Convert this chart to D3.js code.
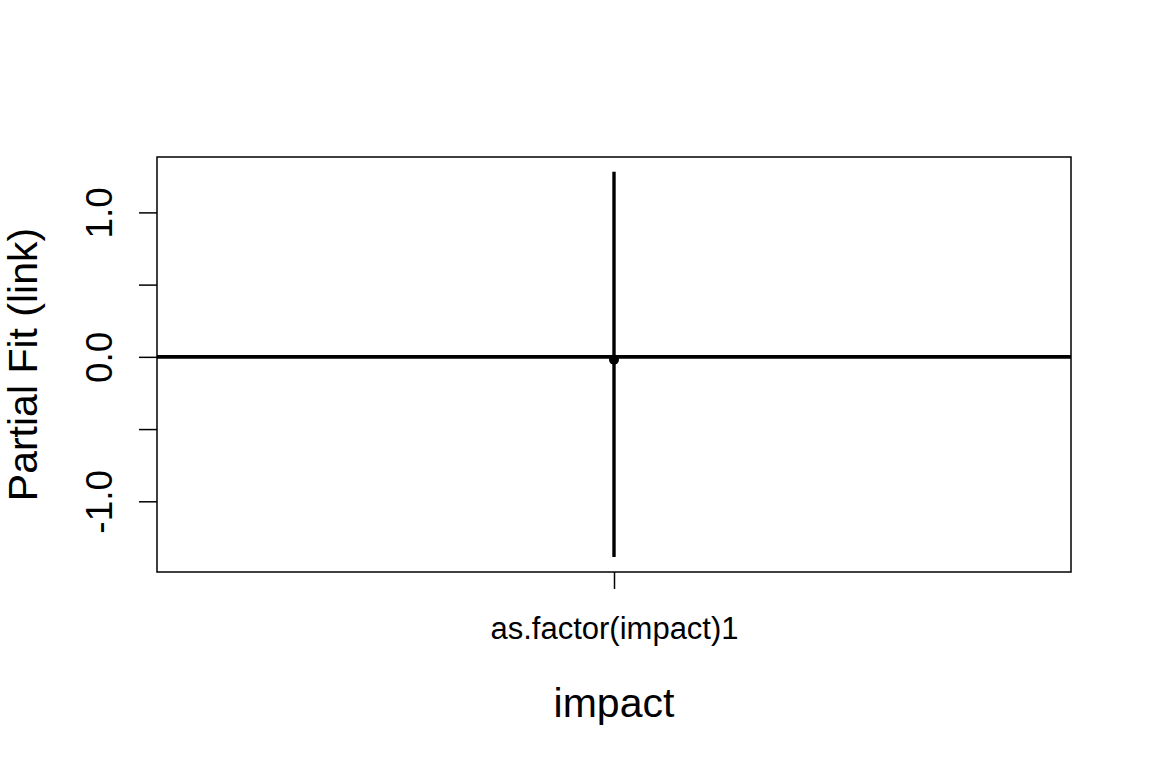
<!DOCTYPE html>
<html><head><meta charset="utf-8">
<script src="https://cdn.jsdelivr.net/npm/d3@7"></script>
<style>body{margin:0;background:#fff}svg{display:block}text{font-family:"Liberation Sans",Arial,sans-serif;fill:#000}</style>
</head><body><svg id="c" width="1152" height="768"></svg>
<script>
const categories = ["as.factor(impact)1"];
const fitValues = [-0.02];
const upperValues = [1.281];
const lowerValues = [-1.385];
const yTicks = [-1.0, -0.5, 0.0, 0.5, 1.0];
const yTickLabels = ["-1.0", "", "0.0", "", "1.0"];
const refLine = [0];

const svg = d3.select("#c");
const L = 157, R = 1071, T = 157, B = 572;
const x = d3.scalePoint().domain(categories).range([L, R]).padding(0.5);
const y = d3.scaleLinear().domain([-1.4894, 1.3834]).range([B, T]);

// reference line at 0
svg.selectAll(".ref").data(refLine).enter().append("line")
  .attr("x1", L).attr("x2", R).attr("y1", d => y(d)).attr("y2", d => y(d))
  .attr("stroke", "#000").attr("stroke-width", 3.6);

// CI segments
svg.selectAll(".ci").data(categories).enter().append("line")
  .attr("x1", d => x(d)).attr("x2", d => x(d))
  .attr("y1", (d, i) => y(upperValues[i])).attr("y2", (d, i) => y(lowerValues[i]))
  .attr("stroke", "#000").attr("stroke-width", 3.4);

// point
svg.selectAll(".pt").data(categories).enter().append("circle")
  .attr("cx", d => x(d)).attr("cy", (d, i) => y(fitValues[i])).attr("r", 5).attr("fill", "#000");

// frame
svg.append("rect").attr("x", L).attr("y", T).attr("width", R - L).attr("height", B - T)
  .attr("fill", "none").attr("stroke", "#000").attr("stroke-width", 1.5);

// y axis
const ya = svg.append("g").attr("transform", `translate(${L},0)`)
  .call(d3.axisLeft(y).tickValues(yTicks).tickSize(18).tickFormat((d, i) => yTickLabels[i]));
ya.select(".domain").remove();
ya.selectAll(".tick line").attr("stroke", "#000").attr("stroke-width", 1.5);
ya.selectAll(".tick text").remove();
ya.selectAll(".tick").append("text")
  .attr("transform", "translate(-45,0) rotate(-90)")
  .attr("text-anchor", "middle").attr("font-size", 37)
  .text((d, i) => yTickLabels[i]);

// x axis
const xa = svg.append("g").attr("transform", `translate(0,${B})`)
  .call(d3.axisBottom(x).tickSize(17));
xa.select(".domain").remove();
xa.selectAll(".tick line").attr("stroke", "#000").attr("stroke-width", 1.5);
xa.selectAll(".tick text").attr("font-size", 31).attr("dy", 0).attr("y", 67)
  .style("font-family", "Liberation Sans, Arial, sans-serif").attr("fill", "#000");

// titles
svg.append("text").attr("x", (L + R) / 2).attr("y", 717).attr("text-anchor", "middle")
  .attr("font-size", 41).text("impact");
svg.append("text").attr("transform", `translate(37,${(T + B) / 2}) rotate(-90)`)
  .attr("text-anchor", "middle").attr("font-size", 41).text("Partial Fit (link)");
</script></body></html>
